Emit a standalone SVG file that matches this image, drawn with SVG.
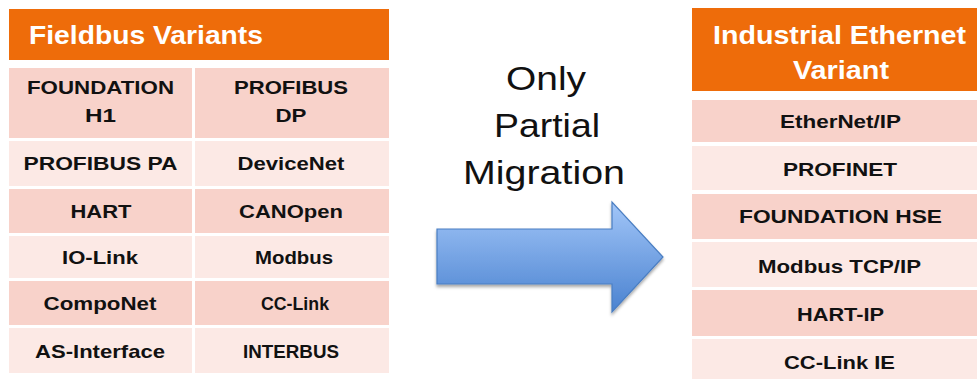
<svg xmlns="http://www.w3.org/2000/svg" width="977" height="379" viewBox="0 0 977 379">
<style>
.hdr{fill:#EE6C0A}
.dk{fill:#F8D2CA}
.lt{fill:#FCE9E5}
.ht{font-family:"Liberation Sans",Arial,sans-serif;font-weight:bold;font-size:26px;fill:#fff}
.ct{font-family:"Liberation Sans",Arial,sans-serif;font-weight:bold;font-size:19px;fill:#111;text-anchor:middle}
.mt{font-family:"Liberation Sans",Arial,sans-serif;font-size:34px;fill:#111;text-anchor:middle}
</style>
<defs>
<linearGradient id="ag" x1="0" y1="0" x2="0" y2="1">
<stop offset="0" stop-color="#A2C6F8"/>
<stop offset="1" stop-color="#4A82D0"/>
</linearGradient>
<filter id="sh" x="-10%" y="-10%" width="120%" height="130%">
<feDropShadow dx="0" dy="2.5" stdDeviation="1.8" flood-color="#000" flood-opacity="0.35"/>
</filter>
</defs>

<g id="fieldbus">
<g id="fieldbus-header">
<rect class="hdr" x="9" y="9" width="380" height="51"/>
<text class="ht" x="29" y="44" textLength="234" lengthAdjust="spacingAndGlyphs">Fieldbus Variants</text>
</g>
<g id="fb-foundation-h1"><rect class="dk" x="9" y="68" width="183" height="70"/>
<text class="ct" x="100.5" y="94" textLength="147" lengthAdjust="spacingAndGlyphs">FOUNDATION</text>
<text class="ct" x="100.5" y="122" textLength="31" lengthAdjust="spacingAndGlyphs">H1</text></g>
<g id="fb-profibus-dp"><rect class="dk" x="195" y="68" width="194" height="70"/>
<text class="ct" x="291" y="94" textLength="114" lengthAdjust="spacingAndGlyphs">PROFIBUS</text>
<text class="ct" x="291" y="122" textLength="31" lengthAdjust="spacingAndGlyphs">DP</text></g>
<g id="fb-profibus-pa"><rect class="lt" x="9" y="141" width="183" height="45"/>
<text class="ct" x="100.5" y="170" textLength="154" lengthAdjust="spacingAndGlyphs">PROFIBUS PA</text></g>
<g id="fb-devicenet"><rect class="lt" x="195" y="141" width="194" height="45"/>
<text class="ct" x="291" y="170" textLength="107" lengthAdjust="spacingAndGlyphs">DeviceNet</text></g>
<g id="fb-hart"><rect class="dk" x="9" y="189" width="183" height="44"/>
<text class="ct" x="101" y="218" textLength="61" lengthAdjust="spacingAndGlyphs">HART</text></g>
<g id="fb-canopen"><rect class="dk" x="195" y="189" width="194" height="44"/>
<text class="ct" x="291" y="218" textLength="104" lengthAdjust="spacingAndGlyphs">CANOpen</text></g>
<g id="fb-iolink"><rect class="lt" x="9" y="236" width="183" height="42"/>
<text class="ct" x="100" y="264" textLength="76" lengthAdjust="spacingAndGlyphs">IO-Link</text></g>
<g id="fb-modbus"><rect class="lt" x="195" y="236" width="194" height="42"/>
<text class="ct" x="294" y="264" textLength="78" lengthAdjust="spacingAndGlyphs">Modbus</text></g>
<g id="fb-componet"><rect class="dk" x="9" y="281" width="183" height="44"/>
<text class="ct" x="100" y="310" textLength="113" lengthAdjust="spacingAndGlyphs">CompoNet</text></g>
<g id="fb-cclink"><rect class="dk" x="195" y="281" width="194" height="44"/>
<text class="ct" x="295" y="310" textLength="68" lengthAdjust="spacingAndGlyphs">CC-Link</text></g>
<g id="fb-asinterface"><rect class="lt" x="9" y="328" width="183" height="45"/>
<text class="ct" x="100" y="358" textLength="130" lengthAdjust="spacingAndGlyphs">AS-Interface</text></g>
<g id="fb-interbus"><rect class="lt" x="195" y="328" width="194" height="45"/>
<text class="ct" x="291" y="358" textLength="96" lengthAdjust="spacingAndGlyphs">INTERBUS</text></g>
</g>

<g id="ethernet">
<g id="ethernet-header">
<rect class="hdr" x="692" y="8" width="300" height="83"/>
<text class="ht" x="839.5" y="44" text-anchor="middle" textLength="253" lengthAdjust="spacingAndGlyphs">Industrial Ethernet</text>
<text class="ht" x="841" y="79" text-anchor="middle" textLength="96" lengthAdjust="spacingAndGlyphs">Variant</text>
</g>
<g id="ie-ethernetip"><rect class="dk" x="692" y="100" width="300" height="42"/>
<text class="ct" x="840.5" y="128" textLength="121" lengthAdjust="spacingAndGlyphs">EtherNet/IP</text></g>
<g id="ie-profinet"><rect class="lt" x="692" y="146" width="300" height="44"/>
<text class="ct" x="840" y="176" textLength="114" lengthAdjust="spacingAndGlyphs">PROFINET</text></g>
<g id="ie-foundation-hse"><rect class="dk" x="692" y="194" width="300" height="45"/>
<text class="ct" x="840.5" y="223" textLength="203" lengthAdjust="spacingAndGlyphs">FOUNDATION HSE</text></g>
<g id="ie-modbus-tcp"><rect class="lt" x="692" y="242" width="300" height="45"/>
<text class="ct" x="839.5" y="273" textLength="163" lengthAdjust="spacingAndGlyphs">Modbus TCP/IP</text></g>
<g id="ie-hart-ip"><rect class="dk" x="692" y="290" width="300" height="46"/>
<text class="ct" x="840.5" y="321" textLength="87" lengthAdjust="spacingAndGlyphs">HART-IP</text></g>
<g id="ie-cclink-ie"><rect class="lt" x="692" y="339" width="300" height="45"/>
<text class="ct" x="839.5" y="369" textLength="111" lengthAdjust="spacingAndGlyphs">CC-Link IE</text></g>
</g>

<g id="connectors">
<g id="migration-arrow">
<path d="M437 229 L612 229 L612 202 L663 257 L612 312 L612 284 L437 284 Z" fill="url(#ag)" stroke="#4A7EC2" stroke-width="1.2" stroke-linejoin="miter" filter="url(#sh)"/>
</g>
<g id="migration-label">
<text class="mt" x="546" y="90" textLength="80" lengthAdjust="spacingAndGlyphs">Only</text>
<text class="mt" x="547" y="137" textLength="106" lengthAdjust="spacingAndGlyphs">Partial</text>
<text class="mt" x="544" y="184" textLength="162" lengthAdjust="spacingAndGlyphs">Migration</text>
</g>
</g>
</svg>
